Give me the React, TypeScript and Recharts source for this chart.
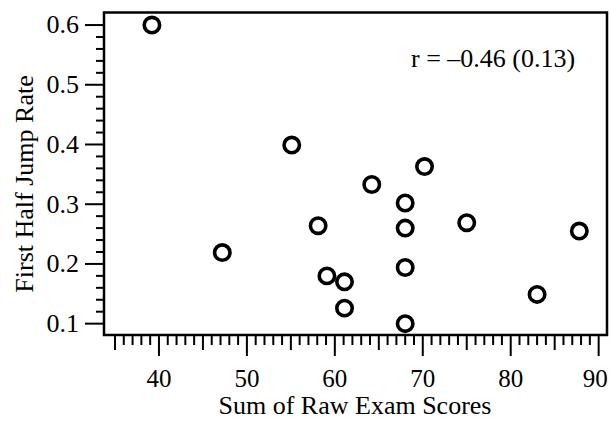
import { ScatterChart, Scatter, XAxis, YAxis, ReferenceArea } from 'recharts';

// values
const examScores = [39.2, 47.2, 55.1, 58.1, 59.1, 61.1, 61.1, 64.2, 68.0, 68.0, 68.0, 68.0, 70.2, 75.0, 83.0, 87.8];
const jumpRates = [0.6, 0.219, 0.399, 0.264, 0.18, 0.17, 0.126, 0.333, 0.302, 0.26, 0.194, 0.1, 0.363, 0.269, 0.149, 0.255];

const xDomain = [33.75, 90.95];
const yDomain = [0.081, 0.621];

// every unit from 35 to 90 gets a tick, labels on the tens
const xTicks = Array.from({ length: 56 }, (_, i) => 35 + i);
// every 0.02 from 0.1 to 0.6, labels on the tenths
const yTicks = Array.from({ length: 26 }, (_, i) => Math.round((0.1 + i * 0.02) * 100) / 100);

const xTitle = 'Sum of Raw Exam Scores';
const yTitle = 'First Half Jump Rate';
const note = 'r = –0.46 (0.13)';

const FONT = '"Liberation Serif", "Times New Roman", serif';

const data = examScores.map((x, i) => ({ x, y: jumpRates[i] }));

function XTick({ x, y, payload }: any) {
  const v = payload.value;
  const major = v % 10 === 0;
  const len = major ? 21 : v % 5 === 0 ? 15 : 10;
  const last = v === xTicks[xTicks.length - 1];
  return (
    <g>
      <line x1={x} x2={x} y1={y} y2={y + len} stroke="#000" strokeWidth={2} />
      {major && (
        <text
          x={last ? x + 9 : x}
          y={y + 52}
          textAnchor={last ? 'end' : 'middle'}
          fontSize={25}
          fontFamily={FONT}
          fill="#000"
        >
          {v}
        </text>
      )}
    </g>
  );
}

function YTick({ x, y, payload }: any) {
  const v = payload.value;
  const major = Math.abs(v * 10 - Math.round(v * 10)) < 1e-6;
  const len = major ? 19 : 8;
  return (
    <g>
      <line x1={x - len} x2={x} y1={y} y2={y} stroke="#000" strokeWidth={2} />
      {major && (
        <text x={x - 25} y={y} dy="0.32em" textAnchor="end" fontSize={26} fontFamily={FONT} fill="#000">
          {v.toFixed(1)}
        </text>
      )}
    </g>
  );
}

function Ring(props: any) {
  const { cx, cy } = props;
  return <circle cx={cx} cy={cy} r={7.7} fill="none" stroke="#000" strokeWidth={3.6} />;
}

export default function App() {
  return (
    <div style={{ position: 'absolute', left: 0, top: 0, width: 610, height: 423, background: '#fff' }}>
      <ScatterChart width={610} height={423} margin={{ top: 12.5, right: 3, bottom: 0, left: 0 }}>
        <XAxis
          type="number"
          dataKey="x"
          domain={xDomain}
          ticks={xTicks}
          interval={0}
          height={88}
          tickSize={0}
          tickMargin={0}
          tickLine={false}
          axisLine={false}
          tick={<XTick />}
          allowDataOverflow
        />
        <YAxis
          type="number"
          dataKey="y"
          domain={yDomain}
          ticks={yTicks}
          interval={0}
          width={104}
          tickSize={0}
          tickMargin={0}
          tickLine={false}
          axisLine={false}
          tick={<YTick />}
          allowDataOverflow
        />
        <ReferenceArea
          x1={xDomain[0]}
          x2={xDomain[1]}
          y1={yDomain[0]}
          y2={yDomain[1]}
          fill="none"
          fillOpacity={0}
          stroke="#000"
          strokeWidth={2.5}
          strokeOpacity={1}
          ifOverflow="visible"
        />
        <Scatter data={data} shape={<Ring />} isAnimationActive={false} />
        <text x={355} y={414} textAnchor="middle" fontSize={26} fontFamily={FONT} fill="#000">
          {xTitle}
        </text>
        <text x={33} y={184} transform="rotate(-90, 33, 184)" textAnchor="middle" fontSize={26} fontFamily={FONT} fill="#000">
          {yTitle}
        </text>
        <text x={411} y={67} fontSize={26} fontFamily={FONT} fill="#000">
          {note}
        </text>
      </ScatterChart>
    </div>
  );
}
